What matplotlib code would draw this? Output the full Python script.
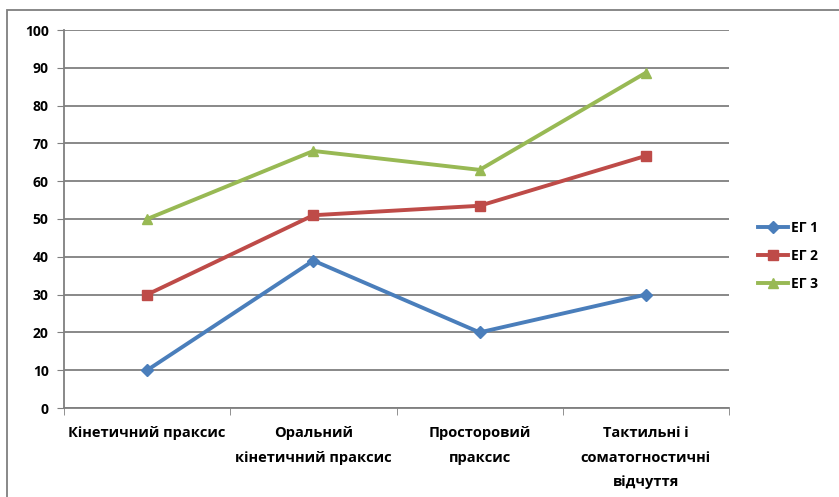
import matplotlib
matplotlib.use("Agg")
import matplotlib.pyplot as plt
from matplotlib.patches import Rectangle
import numpy as np

categories = ["Кінетичний праксис", "Оральний\nкінетичний праксис",
              "Просторовий\nпраксис", "Тактильні і\nсоматогностичні\nвідчуття"]
eg1 = [10, 39, 20, 30]
eg2 = [30, 51, 53.5, 66.7]
eg3 = [50, 68, 63, 88.7]
labels = ["ЕГ 1", "ЕГ 2", "ЕГ 3"]

plt.rcParams['font.family'] = ['Open Sans', 'DejaVu Sans']
plt.rcParams['font.weight'] = 'bold'

fig = plt.figure(figsize=(8.39, 4.97), dpi=100)
fig.patches.append(Rectangle((7 / 839, -0.05), 1.1, 1 - 10 / 497 + 0.05,
                             transform=fig.transFigure, fill=False,
                             edgecolor="#7f7f7f", linewidth=1.3))
ax = fig.add_axes([64 / 839, 1 - 408 / 497, 665 / 839, 378 / 497])

x = np.arange(len(categories))
ax.plot(x, eg1, color="#4A7EBB", marker="D", markersize=6, linewidth=2.8, label=labels[0])
ax.plot(x, eg2, color="#BE4B48", marker="s", markersize=7, linewidth=2.8, label=labels[1])
ax.plot(x, eg3, color="#98B954", marker="^", markersize=7, linewidth=2.8, label=labels[2])

ax.set_xlim(-0.5, 3.5)
ax.set_ylim(0, 100)
ax.set_yticks(range(0, 101, 10))
ax.set_xticks(x)
ax.set_xticklabels(categories, fontsize=10.5, linespacing=1.95)
ax.set_xticks(np.arange(-0.5, 3.6, 1), minor=True)
ax.tick_params(axis="x", which="major", length=0, pad=13)
ax.tick_params(axis="x", which="minor", length=5, color="#7f7f7f")
ax.tick_params(axis="y", length=5, color="#7f7f7f", labelsize=10, pad=6)
ax.yaxis.grid(True, color="#7f7f7f", linewidth=1.3)
ax.set_axisbelow(True)
for s in ["top", "right"]:
    ax.spines[s].set_visible(False)
for s in ["left", "bottom"]:
    ax.spines[s].set_color("#7f7f7f")
    ax.spines[s].set_linewidth(1.3)

leg = fig.legend(loc="center left", bbox_to_anchor=(745 / 839, 1 - 256 / 497),
                 frameon=False, fontsize=10, handlelength=2.2, handletextpad=0.2,
                 labelspacing=1.0)

fig.savefig("out.png", dpi=100)
